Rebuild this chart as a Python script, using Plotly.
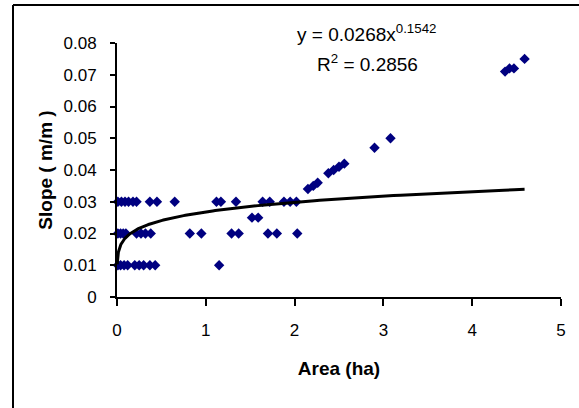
import numpy as np
import plotly.graph_objects as go

# ---- data ----
area_ha = [0.01, 0.04, 0.08, 0.12, 0.20, 0.25, 0.30, 0.37, 0.43, 1.15,
           0.01, 0.04, 0.07, 0.10, 0.22, 0.27, 0.32, 0.38, 0.82, 0.95,
           1.29, 1.37, 1.70, 1.80, 2.03,
           0.01, 0.05, 0.09, 0.13, 0.18, 0.22, 0.37, 0.45, 0.65, 1.12,
           1.17, 1.34, 1.64, 1.72, 1.88, 1.95, 2.02,
           1.52, 1.59,
           2.15, 2.21, 2.26, 2.38, 2.44, 2.50, 2.56, 2.90, 3.08,
           4.37, 4.42, 4.47, 4.59]
slope_mm = [0.010, 0.010, 0.010, 0.010, 0.010, 0.010, 0.010, 0.010, 0.010, 0.010,
            0.020, 0.020, 0.020, 0.020, 0.020, 0.020, 0.020, 0.020, 0.020, 0.020,
            0.020, 0.020, 0.020, 0.020, 0.020,
            0.030, 0.030, 0.030, 0.030, 0.030, 0.030, 0.030, 0.030, 0.030, 0.030,
            0.030, 0.030, 0.030, 0.030, 0.030, 0.030, 0.030,
            0.025, 0.025,
            0.034, 0.035, 0.036, 0.039, 0.040, 0.041, 0.042, 0.047, 0.050,
            0.071, 0.072, 0.072, 0.075]

# power trendline reported on the chart: y = 0.0268 x^0.1542
fit_coef = 0.0268
fit_exp = 0.1542
fit_x_min = 0.002
fit_x_max = 4.59

x_ticks = [0, 1, 2, 3, 4, 5]
y_ticks = [0, 0.01, 0.02, 0.03, 0.04, 0.05, 0.06, 0.07, 0.08]
y_tick_text = ["0", "0.01", "0.02", "0.03", "0.04", "0.05", "0.06", "0.07", "0.08"]

x_title = "<b>Area (ha)</b>"
y_title = "<b>Slope ( m/m )</b>"
eq_text = "y = 0.0268x<sup>0.1542</sup>"
r2_text = "R<sup>2</sup> = 0.2856"

# ---- figure ----
W, H = 579, 408
L, R, T, B = 117, 18, 43, 111
pw, ph = W - L - R, H - T - B

def px_to_paper_x(px):
    return (px - L) / pw

def px_to_paper_y(py):
    return (H - B - py) / ph

FONT = "Liberation Sans, Arial, sans-serif"

fx = np.geomspace(fit_x_min, fit_x_max, 300)
fy = fit_coef * fx ** fit_exp

fig = go.Figure()
fig.add_trace(go.Scatter(
    x=area_ha, y=slope_mm, mode="markers",
    marker=dict(symbol="diamond", size=8, color="#000080", line=dict(width=0)),
    showlegend=False, cliponaxis=False))
fig.add_trace(go.Scatter(
    x=fx, y=fy, mode="lines", line=dict(color="black", width=3),
    showlegend=False))

fig.update_layout(
    width=W, height=H,
    margin=dict(l=L, r=R, t=T, b=B, pad=0, autoexpand=False),
    paper_bgcolor="white", plot_bgcolor="white",
    font=dict(family=FONT, size=17, color="black"),
    xaxis=dict(range=[0, 5], tickvals=x_ticks, ticktext=[str(v) for v in x_ticks],
               showgrid=False, zeroline=False, showline=True, linecolor="black",
               linewidth=2, ticks="outside", ticklen=7, tickwidth=2, tickcolor="black",
               ticklabelstandoff=10, automargin=False,
               title=dict(text=x_title, font=dict(size=19), standoff=22)),
    yaxis=dict(range=[0, 0.08], tickvals=y_ticks, ticktext=y_tick_text,
               showgrid=False, zeroline=False, showline=True, linecolor="black",
               linewidth=2, ticks="outside", ticklen=5, tickwidth=2, tickcolor="black",
               ticklabelstandoff=10, automargin=False,
               title=dict(text=y_title, font=dict(size=19), standoff=6)),
)

fig.add_annotation(x=px_to_paper_x(366), y=px_to_paper_y(33), xref="paper", yref="paper",
                   text=eq_text, showarrow=False, font=dict(size=19),
                   xanchor="center", yanchor="middle")
fig.add_annotation(x=px_to_paper_x(367), y=px_to_paper_y(63), xref="paper", yref="paper",
                   text=r2_text, showarrow=False, font=dict(size=19),
                   xanchor="center", yanchor="middle")

# outer chart border (left and top edges visible in the reference)
bx0, bx1 = px_to_paper_x(13), px_to_paper_x(582)
by0, by1 = px_to_paper_y(412), px_to_paper_y(5)
for (x0, y0, x1, y1) in [(bx0, by0, bx0, by1), (bx0, by1, bx1, by1)]:
    fig.add_shape(type="line", xref="paper", yref="paper", x0=x0, y0=y0, x1=x1, y1=y1,
                  line=dict(color="black", width=2))

fig.write_html("out.html",
               config={"displayModeBar": False},
               post_script="document.body.style.margin='0';document.body.style.padding='0';"
                           "document.body.style.overflow='hidden';")
